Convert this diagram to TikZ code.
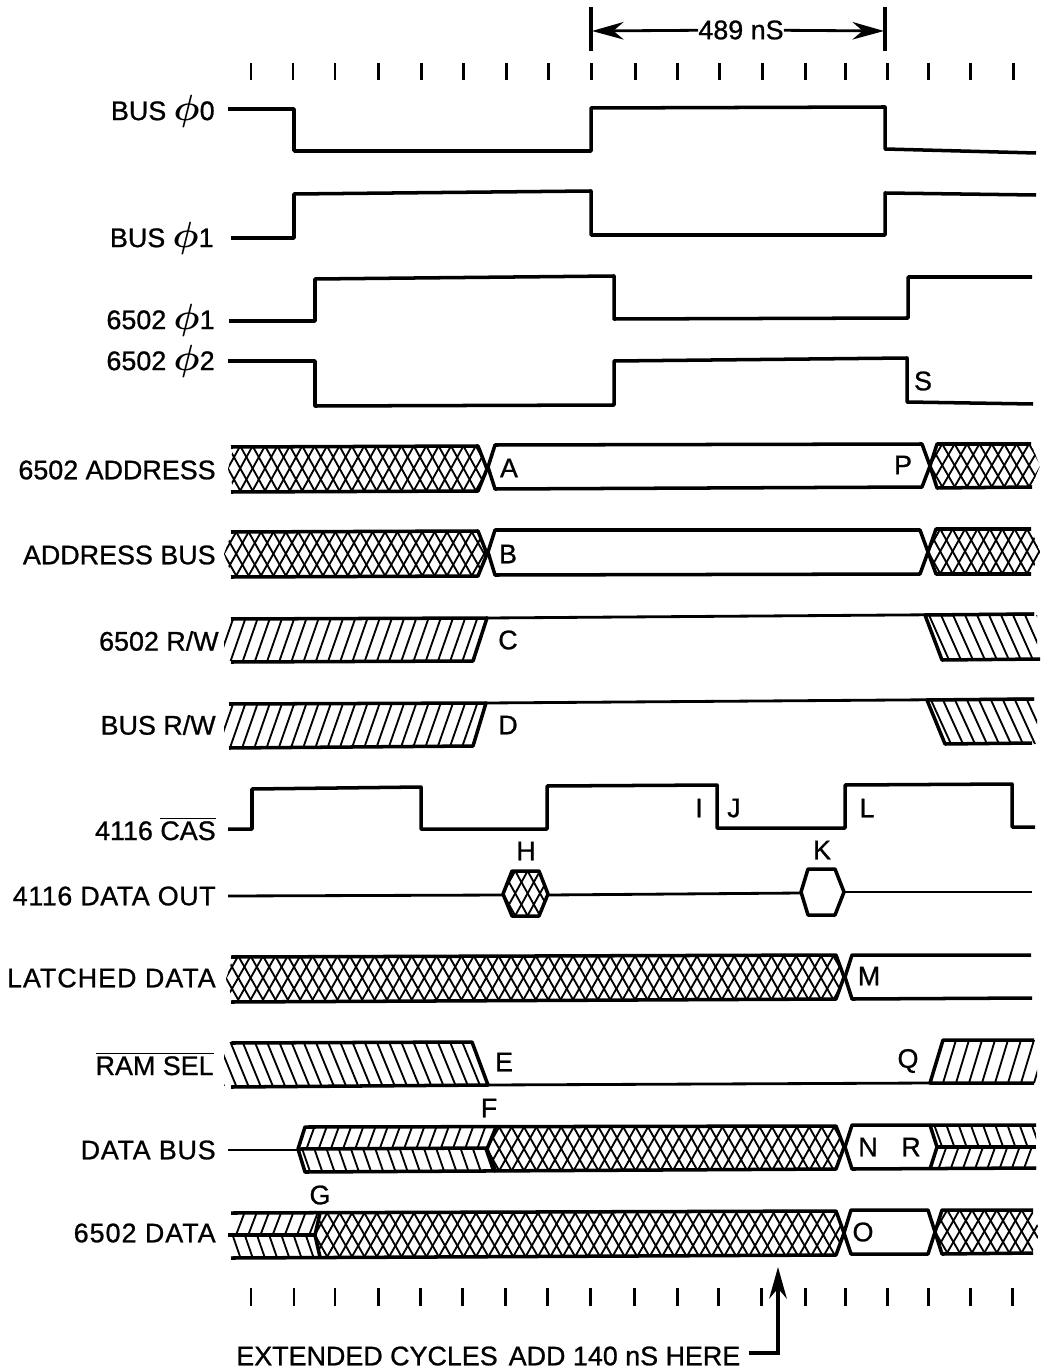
\documentclass[tikz,border=0pt]{standalone}
\usepackage{fontspec}
\setmainfont[BoldFont={Liberation Sans},BoldFeatures={FakeBold=0.9}]{Liberation Sans}
\usetikzlibrary{arrows.meta}
\tikzset{
  sigline/.style={line width=2pt,line join=round},
  thinsig/.style={line width=1.6pt},
  hatchline/.style={line width=1.05pt},
  tickline/.style={line width=1.7pt},
  siglabel/.style={anchor=east,inner sep=0pt,font=\fontsize{15.3}{18}\selectfont\bfseries},
  widelabel/.style={anchor=east,inner sep=0pt,font=\fontsize{15.3}{18}\selectfont\bfseries\addfontfeature{LetterSpace=#1}},
  letternode/.style={inner sep=0pt,font=\fontsize{15.3}{18}\selectfont\bfseries},
  bigtip/.style={-{Stealth[length=18pt,width=10pt]},line width=1.6pt}
}
% clip path, x from, x to, y top, y bottom, lean, spacing
\newcommand{\hatchfill}[7]{%
  \begin{scope}
    \clip #1;
    \pgfmathtruncatemacro{\hn}{(#3-#2+2*abs(#6))/#7}
    \foreach \k in {0,...,\hn}{
      \draw[hatchline] ({#2-abs(#6)+\k*#7},#4) -- ({#2-abs(#6)+\k*#7+#6},#5);
    }
  \end{scope}}
\newcommand{\crossfill}[5]{%
  \hatchfill{#1}{#2}{#3}{#4}{#5}{25}{12.4}
  \hatchfill{#1}{#2}{#3}{#4}{#5}{-25}{12.4}}
\newcommand{\phisym}{{\fontsize{20.74}{21}\selectfont\mathversion{bold}$\phi$}}
\begin{document}
\begin{tikzpicture}[x=0.02cm,y=-0.02cm]
  \useasboundingbox (0,0) rectangle (1041,1371);

  % time marks
  \foreach \tx in {251,293,335,378,421,463,506,548,591,635,677,719,762,805,845,887,928,970,1013}{
    \draw[tickline] (\tx,63) -- (\tx,80);
  }
  \foreach \tx in {251,294,335,378,420,462,505,547,590,634,677,718,761,805,845,887,928,970,1012}{
    \draw[tickline] (\tx,1288) -- (\tx,1306);
  }

  % 489 nS
  \draw[sigline] (591,7) -- (591,51);
  \draw[sigline] (885,7) -- (885,51);
  \coordinate (dimleft) at (592,31);
  \coordinate (dimright) at (884,31);
  \node[letternode] (dimtext) at (741,30) {489 nS};
  \draw[bigtip] (dimtext) -- (dimleft);
  \draw[bigtip] (dimtext) -- (dimright);

  % clocks
  \node[siglabel] (busphizero) at (215,111) {BUS \phisym0};
  \draw[sigline] (228,109) -- (294,109) -- (294,151) -- (591,151) -- (591,108) -- (885,107) -- (885,149) -- (1036,153);
  \node[siglabel] (busphione) at (214,238) {BUS \phisym1};
  \draw[sigline] (231,238) -- (294,238) -- (294,194) -- (591,191) -- (591,235) -- (885,235) -- (885,193) -- (1036,195);
  \node[siglabel] (cpuphione) at (215,320) {6502 \phisym1};
  \draw[sigline] (229,321) -- (315,321) -- (315,279) -- (614,276) -- (614,319) -- (908,318) -- (908,277) -- (1032,277);
  \node[siglabel] (cpuphitwo) at (215,361) {6502 \phisym2};
  \draw[sigline] (228,361) -- (315,361) -- (315,406) -- (614,405) -- (614,361) -- (907,358) -- (907,402) -- (1033,404);
  \node[letternode] (lettS) at (923,381) {S};

  % 6502 address
  \node[siglabel] (cpuaddr) at (216,470) {6502 ADDRESS};
  \crossfill{(228,469)--(234,446)--(478,446)--(487,469)--(478,491)--(234,491)--cycle}{228}{487}{446}{491}
  \draw[sigline] (231,447) -- (478,446) -- (487,469) -- (478,491) -- (231,492);
  \draw[sigline] (922,444) -- (495,445) -- (488,467) -- (495,489) -- (922,487) -- (930,466) -- cycle;
  \crossfill{(930,466)--(937,444)--(1031,444)--(1040,466)--(1031,487)--(937,487)--cycle}{930}{1040}{444}{487}
  \draw[sigline] (1031,444) -- (937,444) -- (930,466) -- (937,488) -- (1032,487);
  \node[letternode] (lettA) at (509,468) {A};
  \node[letternode] (lettP) at (903,465) {P};

  % address bus
  \node[siglabel] (addrbus) at (216,555) {ADDRESS BUS};
  \crossfill{(224,554)--(232,532)--(478,532)--(487,554)--(478,576)--(232,576)--cycle}{224}{487}{532}{576}
  \draw[sigline] (231,532) -- (478,531) -- (487,554) -- (478,576) -- (231,577);
  \draw[sigline] (920,530) -- (495,530) -- (488,552) -- (495,575) -- (920,574) -- (928,552) -- cycle;
  \crossfill{(928,552)--(936,529)--(1031,529)--(1040,552)--(1031,574)--(936,574)--cycle}{928}{1040}{529}{574}
  \draw[sigline] (1031,529) -- (936,529) -- (928,552) -- (936,574) -- (1031,574);
  \node[letternode] (lettB) at (508,554) {B};

  % read/write lines
  \node[siglabel] (cpurw) at (219,641) {6502 R/W};
  \hatchfill{(224,618)--(487,618)--(473,661)--(224,661)--cycle}{224}{487}{618}{661}{-15}{12.2}
  \draw[sigline] (231,619) -- (487,618) -- (473,661) -- (231,662);
  \draw[thinsig] (487,618) -- (1034,614);
  \hatchfill{(925,615)--(1037,615)--(1037,660)--(942,660)--cycle}{925}{1037}{615}{660}{20}{12}
  \draw[sigline] (1034,614) -- (925,615) -- (942,660) -- (1040,659);
  \node[letternode] (lettC) at (508,640) {C};

  \node[siglabel] (busrw) at (216,725) {BUS R/W};
  \hatchfill{(224,703)--(486,703)--(473,746)--(224,746)--cycle}{224}{486}{703}{746}{-15}{12.2}
  \draw[sigline] (229,704) -- (486,703) -- (473,746) -- (229,748);
  \draw[thinsig] (486,703) -- (1034,699);
  \hatchfill{(927,700)--(1037,700)--(1037,744)--(945,744)--cycle}{927}{1037}{700}{744}{20}{12}
  \draw[sigline] (1034,699) -- (927,700) -- (945,744) -- (1032,743);
  \node[letternode] (lettD) at (508,725) {D};

  % 4116 CAS
  \node[siglabel] (ramcas) at (216,829) {4116 $\overline{\hbox{CAS}}$};
  \draw[sigline] (228,829) -- (252,829) -- (252,789) -- (421,787) -- (421,829) -- (547,829) -- (547,786) -- (717,785) -- (717,828) -- (845,828) -- (845,785) -- (1012,784) -- (1012,827) -- (1035,827);
  \node[letternode] (lettI) at (699,808) {I};
  \node[letternode] (lettJ) at (734,808) {J};
  \node[letternode] (lettL) at (867,808) {L};

  % 4116 data out
  \node[widelabel=2.1] (ramout) at (216,896) {4116 DATA OUT};
  \draw[thinsig] (228,896) -- (503,895);
  \crossfill{(503,894)--(512,871)--(539,871)--(548,894)--(539,916)--(512,916)--cycle}{503}{548}{871}{916}
  \draw[sigline] (503,894) -- (512,871) -- (539,871) -- (548,894) -- (539,916) -- (512,916) -- cycle;
  \draw[thinsig] (548,895) -- (801,893);
  \draw[sigline] (801,892) -- (808,869) -- (835,869) -- (844,892) -- (835,915) -- (808,915) -- cycle;
  \draw[thinsig] (844,892) -- (1032,892);
  \node[letternode] (lettH) at (526,851) {H};
  \node[letternode] (lettK) at (822,850) {K};

  % latched data
  \node[widelabel=3.7] (latched) at (216,978) {LATCHED DATA};
  \crossfill{(226,979)--(233,957)--(836,955)--(844,977)--(836,999)--(233,1001)--cycle}{226}{844}{956}{1000}
  \draw[sigline] (231,957) -- (836,955) -- (844,977) -- (836,999) -- (231,1002);
  \draw[sigline] (1031,955) -- (852,955) -- (845,977) -- (852,999) -- (1032,998);
  \node[letternode] (lettM) at (869,976) {M};

  % RAM select
  \node[siglabel] (ramsel) at (214,1064) {$\overline{\hbox{RAM SEL}}$};
  \hatchfill{(224,1042)--(472,1042)--(488,1086)--(224,1086)--cycle}{224}{488}{1042}{1086}{18}{12.2}
  \draw[sigline] (231,1043) -- (472,1042) -- (488,1085) -- (231,1087);
  \draw[thinsig] (488,1085) -- (930,1083);
  \hatchfill{(930,1083)--(943,1040)--(1037,1040)--(1037,1083)--cycle}{930}{1037}{1040}{1083}{-13}{13}
  \draw[sigline] (1034,1040) -- (943,1040) -- (930,1083) -- (1034,1083);
  \node[letternode] (lettE) at (504,1062) {E};
  \node[letternode] (lettQ) at (908,1061) {Q};

  % data bus
  \node[widelabel=2.8] (databus) at (216,1150) {DATA BUS};
  \draw[thinsig] (228,1150) -- (298,1150);
  \hatchfill{(298,1149)--(305,1127)--(496,1127)--(487,1149)--cycle}{298}{496}{1127}{1149}{-8}{12.2}
  \hatchfill{(298,1149)--(305,1172)--(496,1172)--(487,1149)--cycle}{298}{496}{1149}{1172}{8}{12.2}
  \crossfill{(487,1149)--(496,1127)--(836,1126)--(844,1147)--(836,1169)--(496,1172)--cycle}{487}{844}{1127}{1171}
  \draw[sigline] (836,1126) -- (305,1127) -- (298,1149) -- (305,1172) -- (836,1169) -- (844,1147) -- cycle;
  \draw[sigline] (300,1149) -- (487,1148);
  \draw[sigline] (496,1127) -- (487,1149) -- (496,1172);
  \hatchfill{(930,1125)--(1036,1125)--(1036,1147)--(937,1147)--cycle}{930}{1036}{1125}{1147}{8}{12.2}
  \hatchfill{(937,1147)--(1036,1147)--(1036,1169)--(930,1169)--cycle}{930}{1036}{1147}{1169}{-8}{12.2}
  \draw[sigline] (1036,1125) -- (852,1125) -- (845,1147) -- (852,1169) -- (1036,1168);
  \draw[sigline] (930,1125) -- (937,1147) -- (930,1169);
  \draw[sigline] (937,1147) -- (1036,1147);
  \node[letternode] (lettF) at (489,1108) {F};
  \node[letternode] (lettN) at (868,1147) {N};
  \node[letternode] (lettR) at (911,1147) {R};

  % 6502 data
  \node[widelabel=3.7] (cpudata) at (216,1233) {6502 DATA};
  \hatchfill{(228,1234)--(235,1213)--(320,1213)--(315,1234)--cycle}{228}{320}{1213}{1234}{-8}{12.2}
  \hatchfill{(228,1234)--(235,1257)--(320,1257)--(315,1234)--cycle}{228}{320}{1234}{1257}{8}{12.2}
  \crossfill{(315,1235)--(321,1213)--(836,1211)--(844,1233)--(836,1255)--(321,1257)--cycle}{315}{844}{1213}{1257}
  \draw[sigline] (231,1213) -- (836,1211) -- (844,1233) -- (836,1255) -- (231,1258);
  \draw[sigline] (320,1213) -- (315,1235) -- (320,1257);
  \draw[sigline] (228,1235) -- (315,1235);
  \draw[sigline] (844,1233) -- (851,1210) -- (928,1210) -- (935,1232) -- (928,1254) -- (851,1254) -- cycle;
  \crossfill{(935,1232)--(942,1210)--(1032,1210)--(1040,1232)--(1032,1253)--(942,1253)--cycle}{935}{1040}{1210}{1253}
  \draw[sigline] (1033,1210) -- (942,1210) -- (935,1232) -- (942,1254) -- (1033,1253);
  \node[letternode] (lettG) at (320,1195) {G};
  \node[letternode] (lettO) at (863,1232) {O};

  % bottom note
  \node[letternode,anchor=west] (extnote) at (236,1356) {EXTENDED CYCLES\ \kern2pt ADD 140 nS HERE};
  \coordinate (extbend) at (778,1353);
  \coordinate (exthead) at (778,1267);
  \draw[bigtip,line width=2pt] (extnote.east) ++(8,-3) -- (extbend) -- (exthead);
\end{tikzpicture}
\end{document}
